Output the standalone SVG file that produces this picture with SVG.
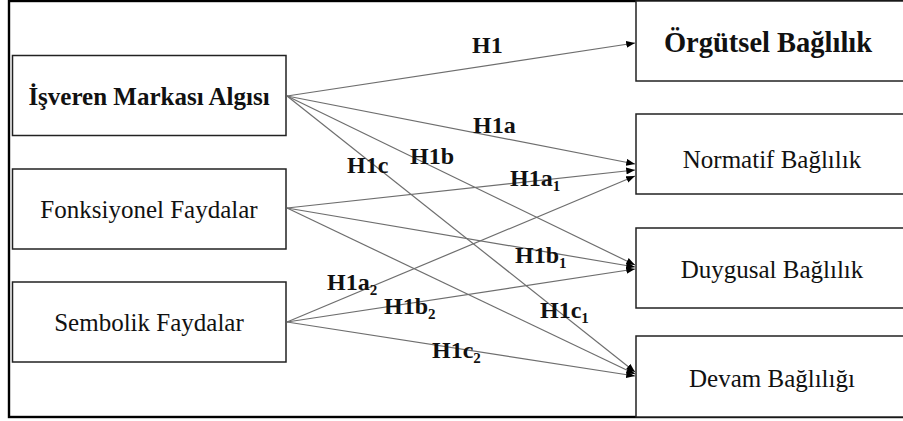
<svg xmlns="http://www.w3.org/2000/svg" width="903" height="421" viewBox="0 0 903 421">
<defs>
<marker id="ah" viewBox="0 0 10 8" refX="10" refY="4" markerWidth="9" markerHeight="7" markerUnits="userSpaceOnUse" orient="auto">
<path d="M0,0 L10,4 L0,8 Z" fill="#000"/>
</marker>
<style>
.box{fill:#fff;stroke:#222;stroke-width:1.5}
.nt{font-size:25px;fill:#111;text-anchor:middle}
.b{font-weight:bold}
.ln{stroke:#6e6e6e;stroke-width:1.2;fill:none;marker-end:url(#ah)}
.lb{font-size:24px;font-weight:bold;fill:#111}
.sub{font-size:15px}
</style>
</defs>
<rect width="903" height="421" fill="#fff"/>
<rect x="9" y="1" width="910" height="416" fill="none" stroke="#000" stroke-width="2.4"/>
<g font-family="'Liberation Serif', 'Times New Roman', Tinos, 'DejaVu Serif', serif">
<g id="n-isveren"><rect class="box" x="12.5" y="55.5" width="273.5" height="80"/><text class="nt b" x="149" y="105">İşveren Markası Algısı</text></g>
<g id="n-fonksiyonel"><rect class="box" x="12.5" y="169" width="273.5" height="80"/><text class="nt" x="149" y="218">Fonksiyonel Faydalar</text></g>
<g id="n-sembolik"><rect class="box" x="12.5" y="282" width="273.5" height="80"/><text class="nt" x="149" y="331">Sembolik Faydalar</text></g>
<g id="n-orgutsel"><rect class="box" x="636" y="1" width="290" height="80"/><text class="nt b" x="768" y="52" style="font-size:28.5px">Örgütsel Bağlılık</text></g>
<g id="n-normatif"><rect class="box" x="636" y="114" width="290" height="80"/><text class="nt" x="772" y="168">Normatif Bağlılık</text></g>
<g id="n-duygusal"><rect class="box" x="636" y="228" width="290" height="80"/><text class="nt" x="772" y="278">Duygusal Bağlılık</text></g>
<g id="n-devam"><rect class="box" x="636" y="336" width="290" height="81"/><text class="nt" x="772" y="387">Devam Bağlılığı</text></g>
<g id="connectors">
<line class="ln" x1="287" y1="96" x2="635" y2="43"/>
<line class="ln" x1="287" y1="96" x2="635" y2="164"/>
<line class="ln" x1="287" y1="96" x2="635" y2="265"/>
<line class="ln" x1="287" y1="96" x2="635" y2="372"/>
<line class="ln" x1="287" y1="208" x2="635" y2="170"/>
<line class="ln" x1="287" y1="208" x2="635" y2="267"/>
<line class="ln" x1="287" y1="208" x2="635" y2="374"/>
<line class="ln" x1="287" y1="322" x2="635" y2="176"/>
<line class="ln" x1="287" y1="322" x2="635" y2="269"/>
<line class="ln" x1="287" y1="322" x2="635" y2="376"/>
</g>
<g id="labels">
<text class="lb" x="472" y="53">H1</text>
<text class="lb" x="473" y="133">H1a</text>
<text class="lb" x="410" y="164">H1b</text>
<text class="lb" x="347" y="173">H1c</text>
<text class="lb" x="510" y="186">H1a<tspan class="sub" dy="5">1</tspan></text>
<text class="lb" x="515" y="263">H1b<tspan class="sub" dy="5">1</tspan></text>
<text class="lb" x="327" y="290">H1a<tspan class="sub" dy="5">2</tspan></text>
<text class="lb" x="384" y="314">H1b<tspan class="sub" dy="5">2</tspan></text>
<text class="lb" x="540" y="318">H1c<tspan class="sub" dy="5">1</tspan></text>
<text class="lb" x="432" y="358">H1c<tspan class="sub" dy="5">2</tspan></text>
</g>
</g>
</svg>
